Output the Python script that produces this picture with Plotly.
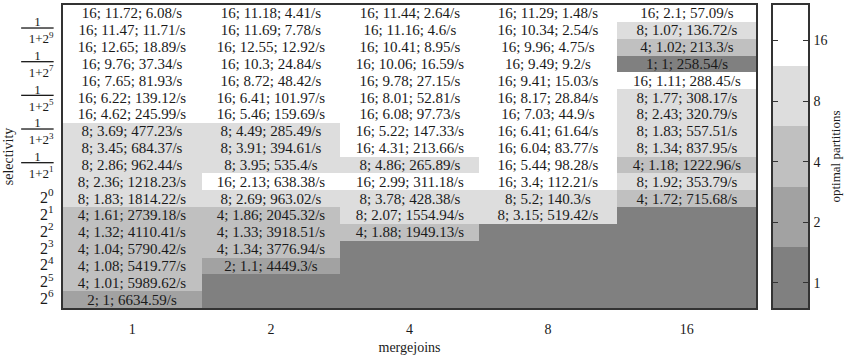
import math
import plotly.graph_objects as go

mergejoins = [1, 2, 4, 8, 16]

# selectivity rows, top to bottom
row_labels = [
    "1/(1+2^10)", "1/(1+2^9)", "1/(1+2^8)", "1/(1+2^7)", "1/(1+2^6)", "1/(1+2^5)",
    "1/(1+2^4)", "1/(1+2^3)", "1/(1+2^2)", "1/(1+2^1)", "1/(1+2^0)",
    "2^0", "2^1", "2^2", "2^3", "2^4", "2^5", "2^6",
]
tick_rows = [1, 3, 5, 7, 9, 11, 12, 13, 14, 15, 16, 17]
FRAC = "<u>&nbsp;&nbsp;&nbsp;&nbsp;1&nbsp;&nbsp;&nbsp;&nbsp;</u><br>1+2<sup>{}</sup>"
POW = "<span style='font-size:16px'>2<sup>{}</sup></span>"
tick_text = [FRAC.format(k) for k in [9, 7, 5, 3, 1]] + [POW.format(k) for k in range(0, 7)]

# optimal partitions per column (None = no data)
partitions_1 = [16, 16, 16, 16, 16, 16, 16, 8, 8, 8, 8, 8, 4, 4, 4, 4, 4, 2]
partitions_2 = [16, 16, 16, 16, 16, 16, 16, 8, 8, 8, 16, 8, 4, 4, 4, 2, None, None]
partitions_4 = [16, 16, 16, 16, 16, 16, 16, 16, 16, 8, 16, 8, 8, 4, None, None, None, None]
partitions_8 = [16, 16, 16, 16, 16, 16, 16, 16, 16, 16, 16, 8, 8, None, None, None, None, None]
partitions_16 = [16, 8, 4, 1, 16, 8, 8, 8, 8, 4, 8, 4, None, None, None, None, None, None]

speedup_1 = [11.72, 11.47, 12.65, 9.76, 7.65, 6.22, 4.62, 3.69, 3.45, 2.86, 2.36, 1.83, 1.61, 1.32, 1.04, 1.08, 1.01, 1]
speedup_2 = [11.18, 11.69, 12.55, 10.3, 8.72, 6.41, 5.46, 4.49, 3.91, 3.95, 2.13, 2.69, 1.86, 1.33, 1.34, 1.1, None, None]
speedup_4 = [11.44, 11.16, 10.41, 10.06, 9.78, 8.01, 6.08, 5.22, 4.31, 4.86, 2.99, 3.78, 2.07, 1.88, None, None, None, None]
speedup_8 = [11.29, 10.34, 9.96, 9.49, 9.41, 8.17, 7.03, 6.41, 6.04, 5.44, 3.4, 5.2, 3.15, None, None, None, None, None]
speedup_16 = [2.1, 1.07, 1.02, 1, 1.11, 1.77, 2.43, 1.83, 1.34, 1.18, 1.92, 1.72, None, None, None, None, None, None]

throughput_1 = [6.08, 11.71, 18.89, 37.34, 81.93, 139.12, 245.99, 477.23, 684.37, 962.44, 1218.23, 1814.22, 2739.18, 4110.41, 5790.42, 5419.77, 5989.62, 6634.59]
throughput_2 = [4.41, 7.78, 12.92, 24.84, 48.42, 101.97, 159.69, 285.49, 394.61, 535.4, 638.38, 963.02, 2045.32, 3918.51, 3776.94, 4449.3, None, None]
throughput_4 = [2.64, 4.6, 8.95, 16.59, 27.15, 52.81, 97.73, 147.33, 213.66, 265.89, 311.18, 428.38, 1554.94, 1949.13, None, None, None, None]
throughput_8 = [1.48, 2.54, 4.75, 9.2, 15.03, 28.84, 44.9, 61.64, 83.77, 98.28, 112.21, 140.3, 519.42, None, None, None, None, None]
throughput_16 = [57.09, 136.72, 213.3, 258.54, 288.45, 308.17, 320.79, 557.51, 837.95, 1222.96, 353.79, 715.68, None, None, None, None, None, None]

partition_levels = [1, 2, 4, 8, 16]
level_colors = ["#808080", "#a2a2a2", "#c0c0c0", "#dddddd", "#ffffff"]

partitions = [partitions_1, partitions_2, partitions_4, partitions_8, partitions_16]
speedups = [speedup_1, speedup_2, speedup_4, speedup_8, speedup_16]
throughputs = [throughput_1, throughput_2, throughput_4, throughput_8, throughput_16]

def fmt(v):
    return ("%g" % v)

n_rows = len(row_labels)
z, text = [], []
for r in range(n_rows):
    zr, tr = [], []
    for c in range(len(mergejoins)):
        p = partitions[c][r]
        if p is None:
            zr.append(None)
            tr.append("")
        else:
            zr.append(math.log2(p))
            tr.append(f"{fmt(p)}; {fmt(speedups[c][r])}; {fmt(throughputs[c][r])}/s")
    z.append(zr)
    text.append(tr)

zmin = math.log2(partition_levels[0] * 0.75)
zmax = math.log2(partition_levels[-1] * 1.5)
colorscale = []
nl = len(level_colors)
for i, col in enumerate(level_colors):
    colorscale.append([i / nl, col])
    colorscale.append([(i + 1) / nl, col])

FONT = "Liberation Serif"

fig = go.Figure()
fig.add_trace(go.Heatmap(
    x=list(range(len(mergejoins))), y=list(range(n_rows)), z=z,
    text=text, texttemplate="%{text}",
    textfont=dict(family=FONT, size=15, color="#1a1a1a"),
    colorscale=colorscale, zmin=zmin, zmax=zmax, showscale=False,
    hoverinfo="skip", xgap=0, ygap=0,
))

# color key drawn as its own small heatmap
edges = [math.log2(partition_levels[0] * 0.75)] + [math.log2(l * 1.5) for l in partition_levels]
fig.add_trace(go.Heatmap(
    x=[0], y=edges, z=[[math.log2(l)] for l in partition_levels],
    colorscale=colorscale, zmin=zmin, zmax=zmax, showscale=False,
    hoverinfo="skip", xaxis="x2", yaxis="y2",
))

W, H = 853, 364
ml, mr, mt, mb = 63, 45, 5, 56
pw = W - ml - mr
fig.update_layout(
    width=W, height=H,
    margin=dict(l=ml, r=mr, t=mt, b=mb),
    paper_bgcolor="white", plot_bgcolor="#808080",
    font=dict(family=FONT, size=14, color="#1a1a1a"),
    xaxis=dict(
        domain=[0, 693 / pw], range=[-0.5, len(mergejoins) - 0.5],
        tickvals=list(range(len(mergejoins))), ticktext=[str(m) for m in mergejoins],
        ticks="", showgrid=False, zeroline=False, automargin=False,
        showline=True, mirror=True, linecolor="#333333", linewidth=1.5,
        title=dict(text="mergejoins", font=dict(size=14), standoff=7),
        tickfont=dict(size=14), ticklabelstandoff=7,
    ),
    yaxis=dict(
        range=[n_rows - 0.5, -0.5],
        tickvals=tick_rows, ticktext=tick_text,
        ticks="", showgrid=False, zeroline=False, automargin=False,
        showline=True, mirror=True, linecolor="#333333", linewidth=1.5,
        title=dict(text="selectivity", font=dict(size=14), standoff=4),
        tickfont=dict(size=13), ticklabelstandoff=5,
    ),
    xaxis2=dict(
        domain=[(773 - ml) / pw, 1.0], anchor="y2", range=[-0.5, 0.5],
        showticklabels=False, ticks="", showgrid=False, zeroline=False,
        automargin=False,
        showline=True, mirror=True, linecolor="#333333", linewidth=1.5,
    ),
    yaxis2=dict(
        domain=[0, 1], anchor="x2", side="right",
        range=[edges[0], edges[-1]],
        tickvals=[math.log2(l) for l in partition_levels],
        ticktext=[str(l) for l in partition_levels],
        ticks="inside", ticklen=5, tickcolor="#333333", mirror="ticks",
        showgrid=False, zeroline=False, automargin=False,
        showline=True, linecolor="#333333", linewidth=1.5,
        title=dict(text="optimal partitions", font=dict(size=13), standoff=4),
        tickfont=dict(size=14), ticklabelstandoff=1,
    ),
)

fig.write_html("out.html", post_script="document.body.style.margin='0';",
               config={"displayModeBar": False})
